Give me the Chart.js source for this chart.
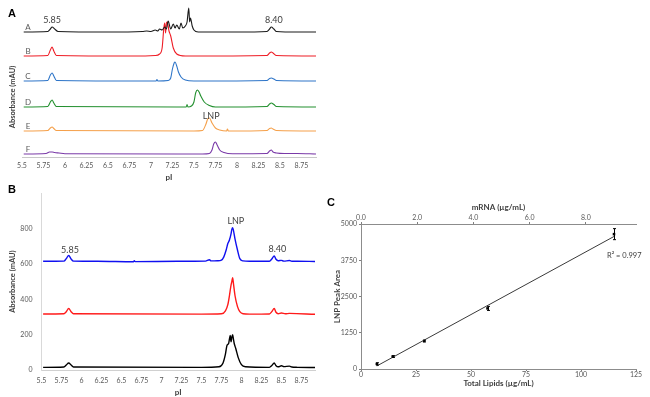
<!DOCTYPE html>
<html>
<head>
<meta charset="utf-8">
<script src="https://cdn.jsdelivr.net/npm/chart.js@4.4.1/dist/chart.umd.min.js"></script>
<style>
  body { margin: 0; background: #fff; width: 650px; height: 397px; position: relative; overflow: hidden; }
  canvas, .tag { position: absolute; }
  .tag { font: bold 11px "Liberation Sans", Arial, sans-serif; color: #000; }
</style>
</head>
<body>
<canvas id="chartA" style="left:0;top:0" width="325" height="185"></canvas>
<canvas id="chartB" style="left:0;top:180px" width="325" height="217"></canvas>
<canvas id="chartC" style="left:325px;top:190px" width="325" height="207"></canvas>
<div class="tag" style="left:8px;top:7px">A</div>
<div class="tag" style="left:8px;top:183px">B</div>
<div class="tag" style="left:327px;top:196px">C</div>
<script>
// ---- panel A: six stacked electropherograms (relative absorbance) ----
const traceNames = ["A", "B", "C", "D", "E", "F"];
const traceColors = ["#1a1a1a", "#ee1c25", "#2e75c8", "#23902f", "#f5a04a", "#7a3aa8"];
const offsetsA = [125, 101, 76, 50, 26, 3];

const tracePiA = [5.52, 5.8, 5.83, 5.85, 5.88, 5.92, 6.5, 6.9, 6.95, 7.0, 7.05, 7.08, 7.1, 7.13, 7.16, 7.18, 7.2, 7.23, 7.26, 7.28, 7.3, 7.33, 7.35, 7.37, 7.4, 7.42, 7.44, 7.45, 7.46, 7.48, 7.5, 7.55, 8.0, 8.35, 8.38, 8.4, 8.43, 8.46, 8.7, 8.92];
const traceAbsA = [0, 0.5, 3, 5, 3, 0.5, 0, 0.5, 1, 0.5, 2, 1, 3, 2, 5, 3, 11, 3, 8, 4, 7, 3, 9, 4, 6, 10, 24, 10, 14, 6, 2, 0, 0, 0.5, 3, 5, 3, 0.5, 0, 0];
const tracePiB = [5.52, 5.8, 5.83, 5.85, 5.87, 5.9, 6.8, 7.05, 7.1, 7.13, 7.15, 7.16, 7.17, 7.18, 7.19, 7.21, 7.23, 7.26, 7.3, 7.4, 8.35, 8.38, 8.4, 8.42, 8.46, 8.92];
const traceAbsB = [0, 0.5, 6, 9, 5, 0.5, 0, 0.5, 2, 8, 28, 33, 23, 33, 34, 25, 20, 8, 2, 0, 0.5, 3, 4, 3, 0.5, 0];
const tracePiC = [5.52, 5.8, 5.83, 5.85, 5.87, 5.9, 7.0, 7.06, 7.07, 7.08, 7.2, 7.23, 7.25, 7.27, 7.28, 7.3, 7.32, 7.35, 7.4, 7.5, 8.35, 8.38, 8.4, 8.43, 8.46, 8.92];
const traceAbsC = [0, 0.5, 6, 8, 5, 0.5, 0, 0, 1.5, 0, 0.5, 3, 12, 18, 19, 15, 9, 4, 1, 0, 0.5, 2.5, 3, 2, 0.5, 0];
const tracePiD = [5.52, 5.8, 5.83, 5.85, 5.87, 5.9, 7.3, 7.41, 7.42, 7.43, 7.47, 7.5, 7.52, 7.54, 7.56, 7.58, 7.62, 7.68, 7.75, 8.35, 8.38, 8.4, 8.43, 8.46, 8.92];
const traceAbsD = [0, 0.5, 5, 7, 4, 0.5, 0, 0, 2.5, 0, 1, 5, 14, 17, 15, 11, 5, 1.5, 0, 0.5, 3, 4, 2.5, 0.5, 0];
const tracePiE = [5.52, 5.8, 5.83, 5.85, 5.87, 5.9, 7.5, 7.6, 7.64, 7.66, 7.68, 7.71, 7.75, 7.8, 7.88, 7.89, 7.9, 8.35, 8.38, 8.4, 8.42, 8.46, 8.92];
const traceAbsE = [0, 0.5, 3, 4, 2.5, 0.5, 0, 0.5, 7, 12, 13, 8, 3, 1, 0, 2, 0, 0.5, 2.5, 3, 2, 0.5, 0];
const tracePiF = [5.52, 5.78, 5.82, 5.85, 5.88, 5.93, 6.0, 7.6, 7.68, 7.71, 7.73, 7.75, 7.77, 7.8, 7.85, 7.95, 8.35, 8.38, 8.4, 8.42, 8.46, 8.55, 8.7, 8.92];
const traceAbsF = [0, 0.5, 2, 2, 1.5, 1, 0.3, 0, 0.5, 4, 10, 12, 9, 4, 1.5, 0.3, 0.5, 3, 4, 2, 1, 0.5, 0.5, 0];

const piTicksA = { min: 5.5, max: 8.92, step: 0.25 };

// ---- panel B: LNP at three loads (mAU) ----
const lnpPiHigh = [5.52, 5.78, 5.81, 5.84, 5.87, 5.9, 6.2, 6.65, 6.66, 6.67, 7.2, 7.55, 7.6, 7.62, 7.7, 7.75, 7.78, 7.81, 7.83, 7.85, 7.87, 7.88, 7.89, 7.9, 7.92, 7.95, 7.98, 8.02, 8.1, 8.35, 8.38, 8.41, 8.43, 8.46, 8.5, 8.53, 8.6, 8.63, 8.7, 8.92];
const lnpAbsHigh = [615, 616, 630, 648, 628, 616, 615, 612, 618, 613, 615, 616, 624, 617, 618, 622, 640, 680, 715, 735, 770, 795, 805, 790, 740, 680, 630, 617, 615, 615, 628, 645, 628, 618, 620, 616, 619, 615, 615, 614];
const lnpPiMid = [5.52, 5.78, 5.81, 5.84, 5.87, 5.9, 7.5, 7.75, 7.8, 7.83, 7.85, 7.87, 7.88, 7.89, 7.9, 7.92, 7.95, 7.98, 8.02, 8.1, 8.35, 8.38, 8.41, 8.43, 8.46, 8.5, 8.55, 8.6, 8.92];
const lnpAbsMid = [317, 318, 330, 348, 330, 318, 316, 318, 335, 370, 420, 480, 500, 522, 490, 420, 360, 330, 318, 316, 317, 330, 348, 328, 318, 322, 318, 320, 315];
const lnpPiLow = [5.52, 5.78, 5.81, 5.84, 5.87, 5.9, 7.5, 7.72, 7.77, 7.8, 7.82, 7.84, 7.85, 7.86, 7.87, 7.88, 7.89, 7.9, 7.91, 7.93, 7.96, 8.0, 8.05, 8.35, 8.38, 8.41, 8.43, 8.46, 8.5, 8.53, 8.6, 8.63, 8.7, 8.92];
const lnpAbsLow = [15, 17, 28, 40, 28, 17, 15, 18, 40, 90, 140, 150, 175, 195, 160, 185, 200, 175, 150, 120, 70, 30, 18, 15, 25, 40, 26, 18, 24, 19, 22, 17, 15, 14];
const lnpColors = ["#1010f0", "#ff1a1a", "#000000"];

// ---- panel C: LNP peak area vs. lipid / mRNA concentration ----
const lipidConc = [7.2, 14.4, 28.7, 57.5, 115];
const lnpPeakArea = [175, 430, 965, 2090, 4650];
const peakAreaErr = [40, 30, 30, 70, 190];
const trendLipids = [7.2, 115];
const trendArea = [105, 4570];
const areaTicks = [0, 1250, 2500, 3750, 5000];
const mrnaMax = 9.78;

Chart.defaults.font.family = "Lato, 'Open Sans', sans-serif";
Chart.defaults.animation = false;
Chart.defaults.responsive = false;
Chart.defaults.plugins.legend.display = false;
Chart.defaults.plugins.tooltip.enabled = false;

const toXY = (xs, ys, off = 0) => xs.map((x, i) => ({ x: x, y: ys[i] + off }));

// draws text notes, either at data values or at fixed pixels
const notes = {
  id: "notes",
  afterDatasetsDraw(chart, args, opts) {
    const { ctx, scales } = chart;
    ctx.save();
    (opts.items || []).forEach(n => {
      const px = n.px !== undefined ? n.px : scales.x.getPixelForValue(n.x);
      const py = n.py !== undefined ? n.py : scales.y.getPixelForValue(n.y);
      ctx.font = n.font || "9px Lato";
      ctx.fillStyle = n.color || "#404040";
      ctx.textAlign = n.align || "center";
      ctx.textBaseline = "middle";
      ctx.translate(px, py);
      if (n.rotate) ctx.rotate(n.rotate);
      ctx.fillText(n.text, 0, 0);
      ctx.setTransform(1, 0, 0, 1, 0, 0);
    });
    ctx.restore();
  }
};

const piTicks = {
  stepSize: 0.25, includeBounds: false, autoSkip: false, maxRotation: 0,
  color: "#595959", font: { size: 7 }, callback: v => String(v)
};

// ---- chart A ----
const piA = [tracePiA, tracePiB, tracePiC, tracePiD, tracePiE, tracePiF];
const absA = [traceAbsA, traceAbsB, traceAbsC, traceAbsD, traceAbsE, traceAbsF];

new Chart(document.getElementById("chartA"), {
  type: "line",
  data: {
    datasets: traceNames.map((name, i) => ({
      label: name,
      data: toXY(piA[i], absA[i], offsetsA[i]),
      borderColor: traceColors[i],
      borderWidth: 1.1,
      pointRadius: 0,
      cubicInterpolationMode: "monotone"
    }))
  },
  options: {
    layout: { padding: { left: 22, top: 5, right: 9 } },
    plugins: {
      notes: {
        items: [
          { text: "5.85", x: 5.85, y: 137 },
          { text: "8.40", x: 8.43, y: 137 },
          { text: "LNP", x: 7.7, y: 41 },
          { text: "Absorbance (mAU)", px: 13, py: 97, rotate: -Math.PI / 2, font: "bold 7.5px Lato", color: "#404040" }
        ].concat(traceNames.map((name, i) => ({ text: name, x: 5.57, y: offsetsA[i] + 5, font: "8px Lato", color: "#595959" })))
      }
    },
    scales: {
      x: {
        type: "linear", min: piTicksA.min, max: piTicksA.max,
        afterFit: s => { s.height = 28; },
        grid: { display: false, drawTicks: false },
        border: { color: "#c8c8c8" },
        ticks: Object.assign({ padding: 5 }, piTicks),
        title: { display: true, text: "pI", color: "#404040", font: { size: 8, weight: "bold" }, padding: { top: 0, bottom: 3 } }
      },
      y: { display: false, min: 0, max: 152 }
    }
  },
  plugins: [notes]
});

// ---- chart B ----
new Chart(document.getElementById("chartB"), {
  type: "line",
  data: {
    datasets: [
      [lnpPiHigh, lnpAbsHigh], [lnpPiMid, lnpAbsMid], [lnpPiLow, lnpAbsLow]
    ].map((t, i) => ({
      data: toXY(t[0], t[1]),
      borderColor: lnpColors[i],
      borderWidth: 1.4,
      pointRadius: 0,
      cubicInterpolationMode: "monotone"
    }))
  },
  options: {
    layout: { padding: { top: 8, right: 10 } },
    plugins: {
      notes: {
        items: [
          { text: "5.85", x: 5.856, y: 680 },
          { text: "LNP", x: 7.93, y: 843 },
          { text: "8.40", x: 8.45, y: 685 }
        ]
      }
    },
    scales: {
      x: {
        type: "linear", min: 5.5, max: 8.92,
        afterFit: s => { s.height = 27; },
        grid: { display: false, drawTicks: false },
        border: { color: "#d0d0d0" },
        ticks: Object.assign({ padding: 7 }, piTicks),
        title: { display: true, text: "pI", color: "#404040", font: { size: 8, weight: "bold" }, padding: { top: 0, bottom: 0 } }
      },
      y: {
        min: 0, max: 1000,
        afterFit: s => { s.width = 41.5; },
        grid: { display: false, drawTicks: false },
        border: { color: "#d9d9d9" },
        ticks: { stepSize: 200, padding: 9, color: "#595959", font: { size: 7 }, callback: v => (v === 1000 ? "" : String(v)) },
        title: { display: true, text: "Absorbance (mAU)", color: "#404040", font: { size: 7.5, weight: "bold" }, padding: { top: 8, bottom: 0 } }
      }
    }
  },
  plugins: [notes]
});

// ---- chart C ----
const errorBars = {
  id: "errorBars",
  afterDatasetsDraw(chart) {
    const { ctx, scales: { x, y } } = chart;
    ctx.save();
    ctx.strokeStyle = "#000";
    ctx.lineWidth = 1;
    lipidConc.forEach((v, i) => {
      const px = Math.round(x.getPixelForValue(v)) + 0.5;
      const top = y.getPixelForValue(lnpPeakArea[i] + peakAreaErr[i]);
      const bot = y.getPixelForValue(lnpPeakArea[i] - peakAreaErr[i]);
      ctx.beginPath();
      ctx.moveTo(px, top); ctx.lineTo(px, bot);
      ctx.moveTo(px - 1.5, top); ctx.lineTo(px + 1.5, top);
      ctx.moveTo(px - 1.5, bot); ctx.lineTo(px + 1.5, bot);
      ctx.stroke();
    });
    ctx.restore();
  }
};

const axisTitle = { size: 8, weight: "bold" };
const tickFont = { color: "#595959", font: { size: 7 }, callback: v => String(v) };
const tickGrid = { drawOnChartArea: false, drawTicks: true, tickLength: 2, color: "#7f7f7f" };

new Chart(document.getElementById("chartC"), {
  type: "line",
  data: {
    datasets: [
      {
        data: toXY(trendLipids, trendArea),
        borderColor: "#3a3a3a",
        borderWidth: 1,
        pointRadius: 0
      },
      {
        data: toXY(lipidConc, lnpPeakArea),
        showLine: false,
        pointStyle: "rect",
        pointRadius: 1.8,
        backgroundColor: "#000",
        borderColor: "#000",
        borderWidth: 0
      }
    ]
  },
  options: {
    layout: { padding: { right: 14 } },
    plugins: {
      notes: {
        items: [{ text: "R\u00b2 = 0.997", x: 111.8, y: 3897, align: "left", font: "7.5px Lato", color: "#404040" }]
      }
    },
    scales: {
      x: {
        type: "linear", min: 0, max: 125,
        afterFit: s => { s.height = 28; },
        grid: tickGrid,
        border: { color: "#8c8c8c" },
        ticks: Object.assign({ stepSize: 25, padding: 0, maxRotation: 0 }, tickFont),
        title: { display: true, text: "Total Lipids (\u00b5g/mL)", color: "#404040", font: axisTitle, padding: { top: 0, bottom: 9 } }
      },
      x2: {
        type: "linear", position: "top", min: 0, max: mrnaMax,
        afterFit: s => { s.height = 34; },
        grid: tickGrid,
        border: { color: "#8c8c8c" },
        ticks: Object.assign({}, tickFont, { stepSize: 2, includeBounds: false, padding: 0, maxRotation: 0, callback: v => v.toFixed(1) }),
        title: { display: true, text: "mRNA (\u00b5g/mL)", color: "#404040", font: axisTitle, padding: { top: 13, bottom: 0 } }
      },
      y: {
        min: 0, max: 5000,
        afterFit: s => { s.width = 36; },
        afterBuildTicks: s => { s.ticks = areaTicks.map(v => ({ value: v })); },
        grid: tickGrid,
        border: { color: "#8c8c8c" },
        ticks: Object.assign({ padding: 2 }, tickFont),
        title: { display: true, text: "LNP Peak Area", color: "#404040", font: axisTitle, padding: { top: 8, bottom: 0 } }
      }
    }
  },
  plugins: [notes, errorBars]
});
</script>
</body>
</html>
